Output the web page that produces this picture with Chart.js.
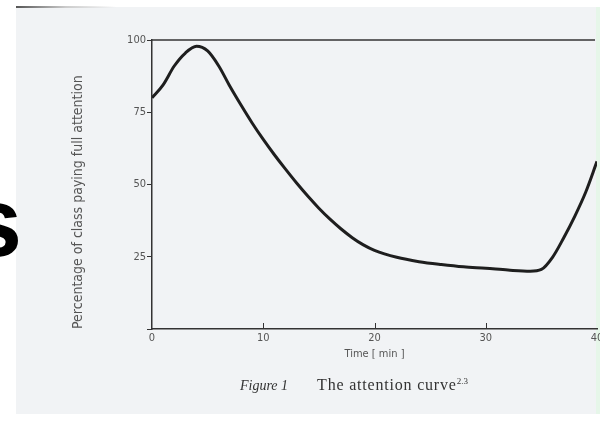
<!DOCTYPE html>
<html>
<head>
<meta charset="utf-8">
<script src="https://cdn.jsdelivr.net/npm/chart.js@4/dist/chart.umd.min.js"></script>
<style>
  html, body { margin:0; padding:0; background:#ffffff; width:600px; height:421px; overflow:hidden; }
  #paper { position:absolute; left:16px; top:7px; width:584px; height:407px; background:#f1f3f5; }
  #shadow { position:absolute; left:16px; top:6px; width:100px; height:2px; background:linear-gradient(to right,#555,#ccc,rgba(240,240,240,0)); }
  #edge { position:absolute; left:596px; top:7px; width:4px; height:407px; background:#e6f6e9; }
  #bigs { position:absolute; left:-62px; top:173px; width:84px; text-align:right; font:bold 98px "Liberation Sans", Arial, sans-serif; line-height:1; color:#000; }
  #chart { position:absolute; left:0; top:0; }
  #caption { position:absolute; left:240px; top:376px; font-family:"Liberation Serif", "Times New Roman", serif; color:#333; white-space:nowrap; }
  #caption .fig { font-style:italic; font-size:14px; }
  #caption .txt { font-size:16px; letter-spacing:0.8px; margin-left:29px; }
  #caption sup { font-size:9px; letter-spacing:0; }
</style>
</head>
<body>
<div id="paper"></div>
<div id="shadow"></div>
<div id="edge"></div>
<div id="bigs">s</div>
<canvas id="chart" width="600" height="421"></canvas>
<div id="caption"><span class="fig">Figure 1</span><span class="txt">The attention curve<sup>2.3</sup></span></div>
<script>
// Time in minutes and percentage of class paying full attention
const minutes   = [0, 1, 2, 3, 4, 5, 6, 7, 8, 9, 10, 11, 12, 13, 14, 15, 16, 17, 18, 19, 20, 22, 24, 26, 28, 30, 32, 34, 35, 36, 37, 38, 39, 40];
const attention = [80, 84.5, 91, 95.5, 97.8, 96.2, 91, 84, 77.5, 71.3, 65.6, 60.3, 55.3, 50.5, 46, 41.8, 38, 34.6, 31.6, 29.1, 27.2, 24.8, 23.3, 22.3, 21.5, 21, 20.4, 20, 20.6, 24.8, 31.5, 39, 47.5, 58];
const xTicks = [0, 10, 20, 30, 40];
const yTicks = [0, 25, 50, 75, 100];
const xTitle = 'Time [ min ]';
const yTitle = 'Percentage of class paying full attention';

const points = minutes.map((m, i) => ({ x: m, y: attention[i] }));
const fam = '"DejaVu Sans Condensed", "Liberation Sans Narrow", "DejaVu Sans", sans-serif';
const tickFont = { family: fam, size: 11 };
const axisColor = '#333333';
const textColor = '#555555';

const frame = {
  id: 'frame',
  afterDatasetsDraw(chart) {
    const { ctx, chartArea: a, scales: { x } } = chart;
    ctx.save();
    ctx.strokeStyle = axisColor;
    ctx.lineWidth = 1.5;
    // top border of the figure box
    ctx.beginPath();
    ctx.moveTo(a.left, a.top);
    ctx.lineTo(a.right - 2, a.top);
    ctx.stroke();
    // inner tick marks on the time axis
    ctx.lineWidth = 1;
    xTicks.slice(1, -1).forEach(v => {
      const px = Math.round(x.getPixelForValue(v)) + 0.5;
      ctx.beginPath();
      ctx.moveTo(px, a.bottom);
      ctx.lineTo(px, a.bottom - 6);
      ctx.stroke();
    });
    ctx.restore();
  }
};

new Chart(document.getElementById('chart'), {
  type: 'line',
  data: {
    datasets: [{
      data: points,
      borderColor: '#1e1e1e',
      borderWidth: 3,
      pointRadius: 0,
      cubicInterpolationMode: 'monotone',
      fill: false
    }]
  },
  options: {
    responsive: false,
    animation: false,
    devicePixelRatio: 1,
    layout: { padding: { left: 66, top: 40, right: 3, bottom: 52 } },
    plugins: { legend: { display: false }, tooltip: { enabled: false } },
    scales: {
      x: {
        type: 'linear', min: 0, max: 40,
        afterBuildTicks: s => { s.ticks = xTicks.map(v => ({ value: v })); },
        afterFit: s => { s.height = 40; s.paddingLeft = 0; s.paddingRight = 0; },
        grid: { display: true, drawOnChartArea: false, drawTicks: false },
        border: { display: true, color: axisColor, width: 1.5 },
        ticks: { color: textColor, font: tickFont, padding: 3, maxRotation: 0 },
        title: { display: true, text: xTitle, color: textColor, font: tickFont, padding: { top: 0, bottom: 8 } }
      },
      y: {
        type: 'linear', min: 0, max: 100,
        afterBuildTicks: s => { s.ticks = yTicks.map(v => ({ value: v })); },
        afterFit: s => { s.width = 86; s.paddingTop = 0; s.paddingBottom = 0; },
        grid: { display: true, drawOnChartArea: false, drawTicks: true, tickLength: 5, color: axisColor },
        border: { display: true, color: axisColor, width: 1.5 },
        ticks: { color: textColor, font: tickFont, padding: 1, callback: v => (v === 0 ? '' : String(v)) },
        title: { display: true, text: yTitle, color: textColor, align: 'start', font: { family: fam, size: 14 }, padding: { top: 4, bottom: 0 } }
      }
    }
  },
  plugins: [frame]
});
</script>
</body>
</html>
